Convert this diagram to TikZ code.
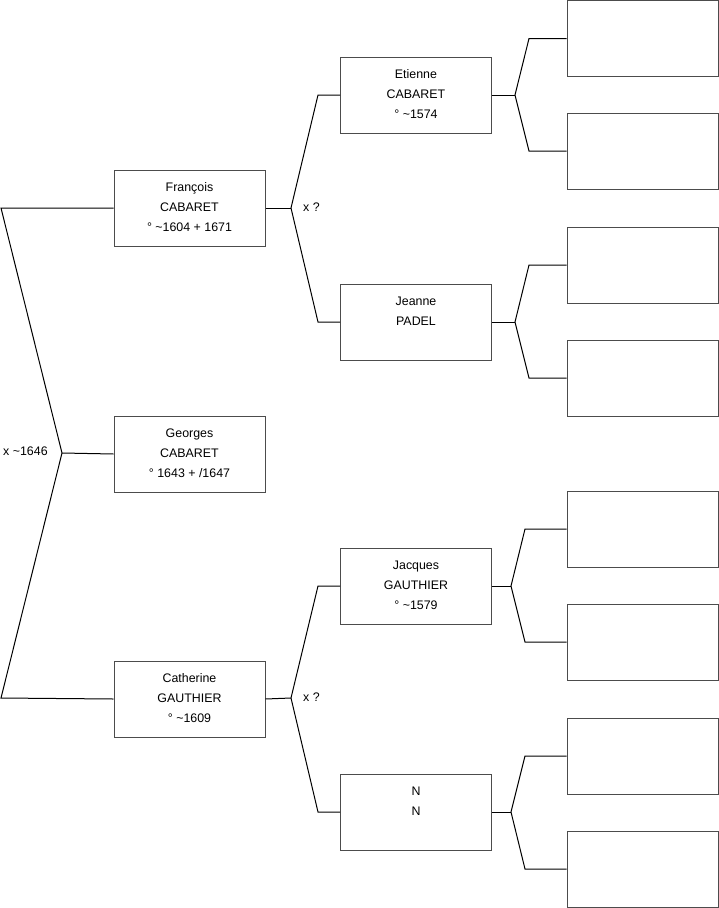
\documentclass[tikz,border=0pt]{standalone}
\usepackage{fontspec}
\setmainfont{Liberation Sans}
\begin{document}
\begin{tikzpicture}[x=1pt,y=-1pt,
  pbox/.style={draw=black!70,line width=1pt,minimum width=151pt,minimum height=76pt,inner sep=0pt,fill=white},
  ptext/.style={anchor=north,align=center,inner sep=0pt,font=\fontsize{12.4}{20}\selectfont},
  lbl/.style={anchor=west,inner sep=0pt,font=\fontsize{12.4}{14}\selectfont},
  conn/.style={draw=black,line width=1pt}]
\useasboundingbox (0,0) rectangle (719,908);
% generation 1
\node[pbox] (ge) at (189.5,454) {};
\node[ptext] (get) at ([yshift=-12.8pt]ge.north) {Georges\\CABARET\\° 1643 + /1647};
% generation 2
\node[pbox] (fr) at (189.5,208) {};
\node[ptext] (frt) at ([yshift=-12.8pt]fr.north) {François\\CABARET\\° \textasciitilde1604 + 1671};
\node[pbox] (ca) at (189.5,699) {};
\node[ptext] (cat) at ([yshift=-12.8pt]ca.north) {Catherine\\GAUTHIER\\° \textasciitilde1609};
% generation 3
\node[pbox] (et) at (416,95) {};
\node[ptext] (ett) at ([yshift=-12.8pt]et.north) {Etienne\\CABARET\\° \textasciitilde1574};
\node[pbox] (je) at (416,322) {};
\node[ptext] (jet) at ([yshift=-12.8pt]je.north) {Jeanne\\PADEL};
\node[pbox] (ja) at (416,586) {};
\node[ptext] (jat) at ([yshift=-12.8pt]ja.north) {Jacques\\GAUTHIER\\° \textasciitilde1579};
\node[pbox] (nn) at (416,812) {};
\node[ptext] (nnt) at ([yshift=-12.8pt]nn.north) {N\\N};
% generation 4
\node[pbox] (r1) at (642.5,38.5) {};
\node[pbox] (r2) at (642.5,151) {};
\node[pbox] (r3) at (642.5,265) {};
\node[pbox] (r4) at (642.5,378) {};
\node[pbox] (r5) at (642.5,529) {};
\node[pbox] (r6) at (642.5,642) {};
\node[pbox] (r7) at (642.5,756) {};
\node[pbox] (r8) at (642.5,869) {};
% labels
\node[lbl] (m0) at (3,451) {x \textasciitilde1646};
\node[lbl] (m1) at (303,207.5) {x ?};
\node[lbl] (m2) at (303,697.5) {x ?};
% left bracket
\coordinate (L1) at (1,208);
\coordinate (v0) at (62,453);
\coordinate (L2) at (1,698);
\draw[conn] (fr.west) -- (L1) -- (v0) -- (L2) -- (ca.west);
\draw[conn] (v0) -- (ge.west);
% François parents
\coordinate (v1) at (291,208);
\coordinate (a1) at (318,95);
\coordinate (b1) at (318,322);
\draw[conn] (fr.east) -- (v1);
\draw[conn] (et.west) -- (a1) -- (v1) -- (b1) -- (je.west);
% Catherine parents
\coordinate (v2) at (291,698);
\coordinate (a2) at (318,586);
\coordinate (b2) at (318,812);
\draw[conn] (ca.east) -- (v2);
\draw[conn] (ja.west) -- (a2) -- (v2) -- (b2) -- (nn.west);
% Etienne parents
\coordinate (v3) at (515,95);
\coordinate (a3) at (529,38.5);
\coordinate (b3) at (529,151);
\draw[conn] (et.east) -- (v3);
\draw[conn] (r1.west) -- (a3) -- (v3) -- (b3) -- (r2.west);
% Jeanne parents
\coordinate (v4) at (515,322);
\coordinate (a4) at (529,265);
\coordinate (b4) at (529,378);
\draw[conn] (je.east) -- (v4);
\draw[conn] (r3.west) -- (a4) -- (v4) -- (b4) -- (r4.west);
% Jacques parents
\coordinate (v5) at (511,586);
\coordinate (a5) at (525,529);
\coordinate (b5) at (525,642);
\draw[conn] (ja.east) -- (v5);
\draw[conn] (r5.west) -- (a5) -- (v5) -- (b5) -- (r6.west);
% N N parents
\coordinate (v6) at (511,812);
\coordinate (a6) at (525,756);
\coordinate (b6) at (525,869);
\draw[conn] (nn.east) -- (v6);
\draw[conn] (r7.west) -- (a6) -- (v6) -- (b6) -- (r8.west);
\end{tikzpicture}
\end{document}
